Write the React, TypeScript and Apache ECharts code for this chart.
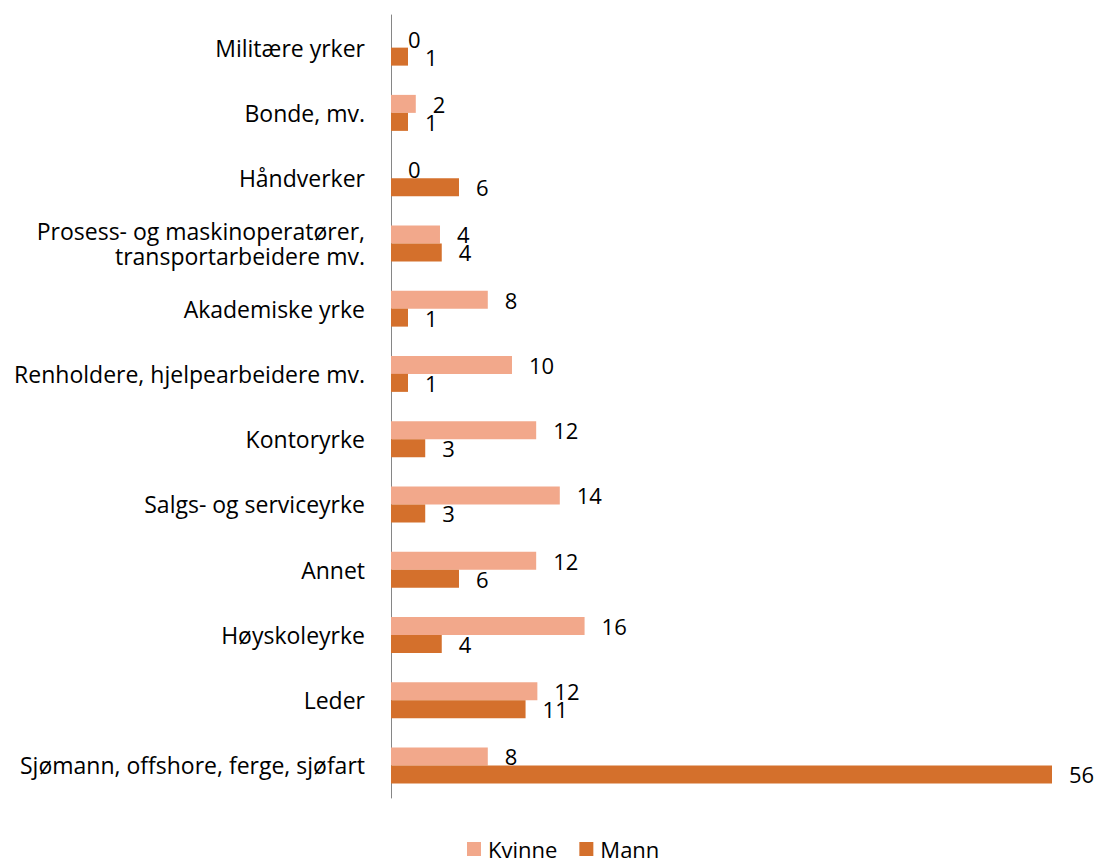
import React, { useEffect, useRef } from "react";
import * as echarts from "echarts";

const categories = [
  "Militære yrker",
  "Bonde, mv.",
  "Håndverker",
  "Prosess- og maskinoperatører,\ntransportarbeidere mv.",
  "Akademiske yrke",
  "Renholdere, hjelpearbeidere mv.",
  "Kontoryrke",
  "Salgs- og serviceyrke",
  "Annet",
  "Høyskoleyrke",
  "Leder",
  "Sjømann, offshore, ferge, sjøfart",
];

const kvinne = [0, 2.1, 0, 4.15, 8.2, 10.25, 12.3, 14.3, 12.3, 16.4, 12.4, 8.2];
const mann = [1.44, 1.44, 5.76, 4.3, 1.44, 1.44, 2.9, 2.9, 5.76, 4.3, 11.4, 56];

const seriesNames = ["Kvinne", "Mann"];
const colors = ["#F2A88B", "#D4702C"];

const FONT = "Open Sans";

export default function App() {
  const ref = useRef<HTMLDivElement>(null);
  useEffect(() => {
    if (!ref.current) return;
    const chart = echarts.init(ref.current, null, { renderer: "svg" });
    const label = {
      show: true,
      position: "right",
      distance: 17,
      color: "#000",
      fontSize: 22,
      fontFamily: FONT,
      formatter: (p: any) => String(Math.round(p.value)),
    };
    chart.setOption({
      animation: false,
      textStyle: { fontFamily: FONT },
      grid: { left: 391, right: 45, top: 15, bottom: 64, containLabel: false },
      legend: {
        data: seriesNames,
        left: 467,
        top: 838,
        itemWidth: 14,
        itemHeight: 14,
        itemGap: 22,
        icon: "rect",
        padding: 0,
        textStyle: {
          fontSize: 22,
          color: "#000",
          fontFamily: FONT,
          lineHeight: 20,
          padding: [0, 0, 0, 2],
        },
      },
      xAxis: {
        type: "value",
        min: 0,
        max: 56,
        show: false,
      },
      yAxis: {
        type: "category",
        inverse: true,
        data: categories,
        axisLine: { show: true, lineStyle: { color: "#868686", width: 1 } },
        axisTick: { show: false },
        axisLabel: {
          margin: 26,
          fontSize: 23,
          color: "#000",
          fontFamily: FONT,
          lineHeight: 25,
          align: "right",
        },
      },
      series: [
        {
          name: seriesNames[0],
          type: "bar",
          data: kvinne,
          barWidth: 18,
          barGap: "0%",
          itemStyle: { color: colors[0] },
          label,
        },
        {
          name: seriesNames[1],
          type: "bar",
          data: mann,
          barWidth: 18,
          barGap: "0%",
          itemStyle: { color: colors[1] },
          label,
        },
      ],
    });
    return () => chart.dispose();
  }, []);
  return (
    <div
      ref={ref}
      style={{ position: "absolute", left: 0, top: 0, width: 1097, height: 862 }}
    />
  );
}
